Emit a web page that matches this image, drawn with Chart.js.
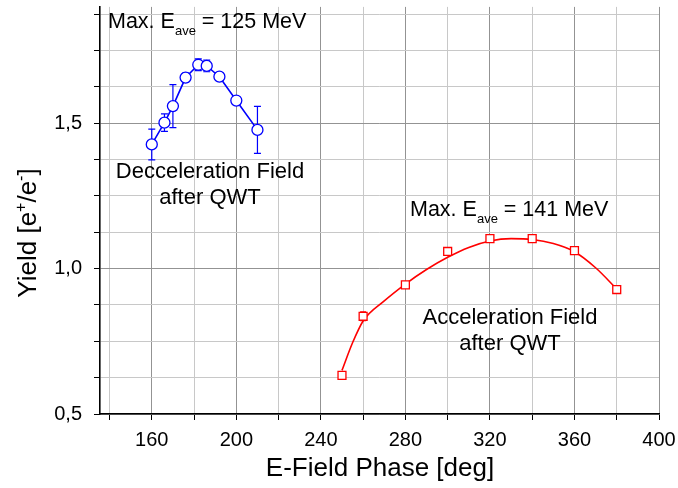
<!DOCTYPE html>
<html>
<head>
<meta charset="utf-8">
<script src="https://cdn.jsdelivr.net/npm/chart.js@4.4.1/dist/chart.umd.min.js"></script>
<style>
  html, body { margin: 0; padding: 0; background: #fff; }
  #chart { display: block; }
</style>
</head>
<body>
<canvas id="chart" width="678" height="488"></canvas>
<script>
// ── DATA ─────────────────────────────────────────────────────
var decelPhase = [160, 166, 170, 176, 182, 186, 192, 200, 210];
var decelYield = [1.427, 1.502, 1.559, 1.657, 1.701, 1.697, 1.660, 1.578, 1.477];
var decelErr   = [0.053, 0.030, 0.074, 0.015, 0.020, 0.020, 0.007, 0.010, 0.081];

var accelPhase = [250, 260, 280, 300, 320, 340, 360, 380];
var accelYield = [0.633, 0.836, 0.944, 1.059, 1.103, 1.103, 1.062, 0.928];
var accelErr   = [0.012, 0.015, 0.006, 0.006, 0.005, 0.005, 0.005, 0.005];

// fitted curve through the acceleration points
var fitPhase = [250, 255, 260, 270, 280, 290, 300, 310, 320, 330, 340, 350, 360, 370, 380];
var fitYield = [0.650, 0.745, 0.820, 0.889, 0.947, 0.997, 1.039, 1.073, 1.095, 1.103, 1.100, 1.086, 1.058, 1.003, 0.930];

var xTicks = [140, 160, 180, 200, 220, 240, 260, 280, 300, 320, 340, 360, 380, 400];
var xLabelTicks = [160, 200, 240, 280, 320, 360, 400];
var yTicks = [0.5, 0.625, 0.75, 0.875, 1.0, 1.125, 1.25, 1.375, 1.5, 1.625, 1.75, 1.875];
var yLabelTicks = [0.5, 1.0, 1.5];

// ── STYLE ────────────────────────────────────────────────────
var FONT = '"Liberation Sans", Arial, Helvetica, sans-serif';
var BLUE = '#0000ff';
var RED = '#ff0000';
var GRID_MAJOR = '#939393';
var GRID_MINOR = '#c8c8c8';

function toPoints(xs, ys) {
  return xs.map(function (x, i) { return { x: x, y: ys[i] }; });
}

function isMajor(v, list) {
  return list.some(function (m) { return Math.abs(m - v) < 1e-6; });
}

// ── ERROR BARS ───────────────────────────────────────────────
var errorBarPlugin = {
  id: 'errorBars',
  beforeDatasetsDraw: function (chart) {
    var ctx = chart.ctx;
    var xs = chart.scales.x, ys = chart.scales.y;
    ctx.save();
    chart.data.datasets.forEach(function (ds) {
      if (!ds.errors) return;
      ctx.strokeStyle = ds.borderColor;
      ctx.lineWidth = 1.2;
      ds.data.forEach(function (p, j) {
        var e = ds.errors[j];
        var px = xs.getPixelForValue(p.x);
        var top = ys.getPixelForValue(p.y + e);
        var bot = ys.getPixelForValue(p.y - e);
        var c = ds.capHalf;
        ctx.beginPath();
        ctx.moveTo(px, top); ctx.lineTo(px, bot);
        ctx.moveTo(px - c, top); ctx.lineTo(px + c, top);
        ctx.moveTo(px - c, bot); ctx.lineTo(px + c, bot);
        ctx.stroke();
      });
    });
    ctx.restore();
  }
};

// ── TEXT (titles, notes) ─────────────────────────────────────
function drawMaxNote(ctx, x, y, value) {
  ctx.textAlign = 'left';
  ctx.textBaseline = 'alphabetic';
  ctx.font = '21.5px ' + FONT;
  var a = 'Max. E';
  ctx.fillText(a, x, y);
  x += ctx.measureText(a).width;
  ctx.font = '13px ' + FONT;
  ctx.fillText('ave', x, y + 7);
  x += ctx.measureText('ave').width;
  ctx.font = '21.5px ' + FONT;
  ctx.fillText(' = ' + value + ' MeV', x, y);
}

function drawYTitle(ctx, cx, cy) {
  var parts = [
    { t: 'Yield [e', sup: false },
    { t: '+', sup: true },
    { t: '/e', sup: false },
    { t: '-', sup: true },
    { t: ']', sup: false }
  ];
  var big = '26px ' + FONT, small = '16px ' + FONT;
  var total = 0;
  parts.forEach(function (p) {
    ctx.font = p.sup ? small : big;
    p.w = ctx.measureText(p.t).width;
    total += p.w;
  });
  ctx.save();
  ctx.translate(cx, cy);
  ctx.rotate(-Math.PI / 2);
  ctx.textAlign = 'left';
  ctx.textBaseline = 'alphabetic';
  var x = -total / 2;
  parts.forEach(function (p) {
    ctx.font = p.sup ? small : big;
    ctx.fillText(p.t, x, p.sup ? -10 : 0);
    x += p.w;
  });
  ctx.restore();
}

var textPlugin = {
  id: 'texts',
  afterDraw: function (chart) {
    var ctx = chart.ctx;
    ctx.save();
    ctx.fillStyle = '#000';

    drawMaxNote(ctx, 108, 28, '125');
    drawMaxNote(ctx, 410, 216, '141');

    ctx.font = '22px ' + FONT;
    ctx.textAlign = 'center';
    ctx.textBaseline = 'alphabetic';
    ctx.fillText('Decceleration Field', 210, 178);
    ctx.fillText('after QWT', 210, 204);
    ctx.fillText('Acceleration Field', 510, 324);
    ctx.fillText('after QWT', 510, 350);

    ctx.font = '26px ' + FONT;
    ctx.fillText('E-Field Phase [deg]', 380, 476);
    drawYTitle(ctx, 36, 233);
    ctx.restore();
  }
};

// ── CHART ────────────────────────────────────────────────────
var ctx = document.getElementById('chart');
new Chart(ctx, {
  type: 'scatter',
  data: {
    datasets: [
      {
        label: 'Decceleration',
        data: toPoints(decelPhase, decelYield),
        showLine: true,
        borderColor: BLUE,
        borderWidth: 1.6,
        pointStyle: 'circle',
        pointRadius: 5.5,
        pointBorderWidth: 1.3,
        pointBorderColor: BLUE,
        pointBackgroundColor: '#fff',
        errors: decelErr,
        capHalf: 3.5,
        order: 0
      },
      {
        label: 'Acceleration',
        data: toPoints(accelPhase, accelYield),
        showLine: false,
        borderColor: RED,
        pointStyle: 'rect',
        pointRadius: 5.6,
        pointBorderWidth: 1.3,
        pointBorderColor: RED,
        pointBackgroundColor: '#fff',
        errors: accelErr,
        capHalf: 3,
        order: 0
      },
      {
        label: 'Fit',
        data: toPoints(fitPhase, fitYield),
        showLine: true,
        borderColor: RED,
        borderWidth: 1.6,
        pointRadius: 0,
        cubicInterpolationMode: 'monotone',
        order: 1
      }
    ]
  },
  options: {
    responsive: false,
    animation: false,
    events: [],
    layout: { padding: { top: 4, right: 19, left: 0, bottom: 0 } },
    plugins: { legend: { display: false }, tooltip: { enabled: false } },
    scales: {
      x: {
        type: 'linear',
        min: 135.5,
        max: 400,
        afterBuildTicks: function (s) { s.ticks = xTicks.map(function (v) { return { value: v }; }); },
        afterFit: function (s) { s.height = 74; s.paddingLeft = 0; s.paddingRight = 0; },
        ticks: {
          autoSkip: false, maxRotation: 0, padding: 8, color: '#000',
          font: { family: FONT, size: 20 },
          callback: function (v) { return isMajor(v, xLabelTicks) ? String(v) : ''; }
        },
        grid: {
          color: function (c) { return c.tick && isMajor(c.tick.value, xLabelTicks) ? GRID_MAJOR : GRID_MINOR; },
          lineWidth: 1,
          tickColor: '#000',
          tickLength: 6
        },
        border: { display: true, color: '#000', width: 1.6 }
      },
      y: {
        type: 'linear',
        min: 0.5,
        max: 1.9,
        afterBuildTicks: function (s) { s.ticks = yTicks.map(function (v) { return { value: v }; }); },
        afterFit: function (s) { s.width = 100; s.paddingTop = 0; s.paddingBottom = 0; },
        ticks: {
          padding: 12, color: '#000',
          font: { family: FONT, size: 20 },
          callback: function (v) { return isMajor(v, yLabelTicks) ? v.toFixed(1).replace('.', ',') : ''; }
        },
        grid: {
          color: function (c) { return c.tick && isMajor(c.tick.value, yLabelTicks) ? GRID_MAJOR : GRID_MINOR; },
          lineWidth: 1,
          tickColor: '#000',
          tickLength: 6
        },
        border: { display: true, color: '#000', width: 1.6 }
      }
    }
  },
  plugins: [errorBarPlugin, textPlugin]
});
</script>
</body>
</html>
